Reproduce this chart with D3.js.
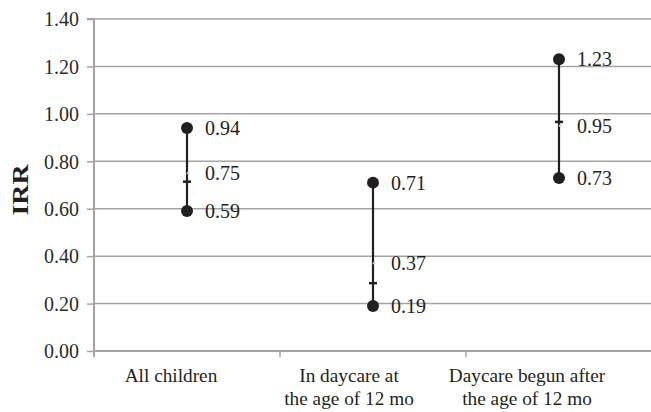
<!DOCTYPE html>
<html>
<head>
<meta charset="utf-8">
<script src="https://cdn.jsdelivr.net/npm/d3@7/dist/d3.min.js"></script>
<style>
  html, body { margin: 0; padding: 0; background: #fff; }
  svg { display: block; }
</style>
</head>
<body>
<svg id="chart" width="651" height="412"></svg>
<script>
// ---- Data ----
const categories = ["All children", "In daycare at|the age of 12 mo", "Daycare begun after|the age of 12 mo"];
const highValues = [0.94, 0.71, 1.23];
const lowValues = [0.59, 0.19, 0.73];
const estimateValues = [0.75, 0.37, 0.95];
const closeMarks = [0.714, 0.286, 0.966];
const yTickValues = [0, 0.2, 0.4, 0.6, 0.8, 1.0, 1.2, 1.4];
const yTickLabels = ["0.00", "0.20", "0.40", "0.60", "0.80", "1.00", "1.20", "1.40"];
const yAxisTitle = "IRR";

(function () {
// ---- Layout ----
const svg = d3.select("#chart");
const mLeft = 94, mRight = 652, mTop = 19, mBottom = 351;
const serif = "'Liberation Serif', 'Times New Roman', serif";
const ink = "#231f20";
const gridColor = "#a3a3a3";

const x = d3.scaleBand().domain(categories).range([mLeft, mRight]).paddingInner(0).paddingOuter(0);
const xLabel = d3.scaleBand().domain(categories).range([82, 616]);
const y = d3.scaleLinear().domain([0, 1.4]).range([mBottom, mTop]);

// gridlines
svg.append("g").selectAll("line")
  .data(yTickValues.filter(v => v > 0))
  .join("line")
  .attr("x1", mLeft).attr("x2", mRight)
  .attr("y1", d => y(d)).attr("y2", d => y(d))
  .attr("stroke", gridColor).attr("stroke-width", 1.5);

// y axis
const yAxis = d3.axisLeft(y).tickValues(yTickValues)
  .tickFormat((d, i) => yTickLabels[i]).tickSize(7).tickPadding(8);
const gy = svg.append("g").attr("transform", `translate(${mLeft},0)`).call(yAxis);
gy.select(".domain").attr("stroke", gridColor).attr("stroke-width", 2)
  .attr("d", `M-7,${mTop}H0V${mBottom + 6}`);
gy.selectAll(".tick line").attr("stroke", gridColor).attr("stroke-width", 1.5);
gy.selectAll(".tick text").attr("font-family", serif).attr("font-size", "20px")
  .attr("fill", "#2b2b2b").attr("dy", "0.34em");

// x axis
const gx = svg.append("g").attr("transform", `translate(0,${mBottom})`);
gx.append("line").attr("x1", mLeft).attr("x2", mRight).attr("y1", 0).attr("y2", 0)
  .attr("stroke", gridColor).attr("stroke-width", 2);
gx.selectAll("line.ct").data(categories.slice(1)).join("line").attr("class", "ct")
  .attr("x1", d => x(d)).attr("x2", d => x(d)).attr("y1", 0).attr("y2", 6)
  .attr("stroke", gridColor).attr("stroke-width", 1.5);
const catText = gx.selectAll("text.cat").data(categories).join("text").attr("class", "cat")
  .attr("x", d => xLabel(d) + xLabel.bandwidth() / 2)
  .attr("y", 31)
  .attr("text-anchor", "middle")
  .attr("font-family", serif).attr("font-size", "19.3px").attr("fill", ink);
catText.each(function(d) {
  const lines = d.split("|");
  d3.select(this).selectAll("tspan").data(lines).join("tspan")
    .attr("x", xLabel(d) + xLabel.bandwidth() / 2)
    .attr("dy", (l, i) => i === 0 ? 0 : 23)
    .text(l => l);
});

// y title
svg.append("text")
  .attr("transform", `translate(28,${(mTop + mBottom) / 2 + 5}) rotate(-90)`)
  .attr("text-anchor", "middle")
  .attr("font-family", serif).attr("font-weight", "bold").attr("font-size", "23px")
  .attr("textLength", 51).attr("lengthAdjust", "spacingAndGlyphs")
  .attr("fill", ink).text(yAxisTitle);

// marks
const idx = categories.map((c, i) => i);
const cx = i => x(categories[i]) + x.bandwidth() / 2;
const marks = svg.append("g");
marks.selectAll("line.range").data(idx).join("line").attr("class", "range")
  .attr("x1", cx).attr("x2", cx)
  .attr("y1", i => y(highValues[i])).attr("y2", i => y(lowValues[i]))
  .attr("stroke", ink).attr("stroke-width", 2.2);
marks.selectAll("line.close").data(idx).join("line").attr("class", "close")
  .attr("x1", i => cx(i) - 4).attr("x2", i => cx(i) + 4)
  .attr("y1", i => y(closeMarks[i])).attr("y2", i => y(closeMarks[i]))
  .attr("stroke", ink).attr("stroke-width", 2.5);
marks.selectAll("circle.est").data(idx).join("circle").attr("class", "est")
  .attr("cx", i => cx(i) + 1).attr("cy", i => y(estimateValues[i])).attr("r", 1.3)
  .attr("fill", "#c8c8c8");
marks.selectAll("circle.hi").data(idx).join("circle").attr("class", "hi")
  .attr("cx", cx).attr("cy", i => y(highValues[i])).attr("r", 6).attr("fill", ink);
marks.selectAll("circle.lo").data(idx).join("circle").attr("class", "lo")
  .attr("cx", cx).attr("cy", i => y(lowValues[i])).attr("r", 6).attr("fill", ink);

// value labels
const labelData = [];
idx.forEach(i => {
  labelData.push({ i, v: highValues[i] });
  labelData.push({ i, v: estimateValues[i] });
  labelData.push({ i, v: lowValues[i] });
});
marks.selectAll("text.val").data(labelData).join("text").attr("class", "val")
  .attr("x", d => cx(d.i) + 18)
  .attr("y", d => y(d.v) + 7)
  .attr("font-family", serif).attr("font-size", "20px").attr("fill", ink)
  .text(d => d.v.toFixed(2));
})();
</script>
</body>
</html>
